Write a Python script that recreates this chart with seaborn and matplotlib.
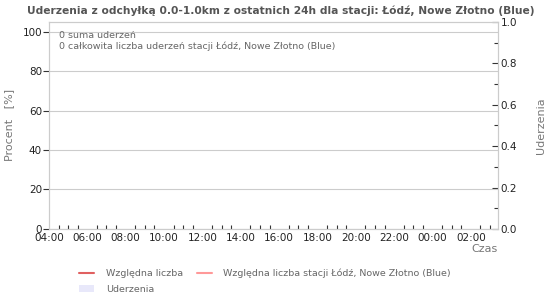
import matplotlib
matplotlib.use("Agg")
import matplotlib.pyplot as plt
import seaborn as sns
import pandas as pd
from matplotlib.lines import Line2D
from matplotlib.patches import Patch

# ---- data ----
tick_hours = [0, 2, 4, 6, 8, 10, 12, 14, 16, 18, 20, 22]
tick_labels = ["04:00", "06:00", "08:00", "10:00", "12:00", "14:00",
               "16:00", "18:00", "20:00", "22:00", "00:00", "02:00"]
slot_hours = [0, 2, 4, 6, 8, 10, 12, 14, 16, 18, 20, 22]
strikes = [0, 0, 0, 0, 0, 0, 0, 0, 0, 0, 0, 0]
total_strikes = 0
station_strikes = 0
station = "Łódź, Nowe Złotno (Blue)"

sns.set_theme(style="white")
plt.rcParams['font.family'] = ['DejaVu Sans']

fig = plt.figure(figsize=(5.5, 3.0), dpi=100)
ax = fig.add_axes([0.089, 0.237, 0.816, 0.690])
ax2 = ax.twinx()

df = pd.DataFrame({"h": slot_hours, "n": strikes})
sns.barplot(data=df, x="h", y="n", ax=ax2, native_scale=True,
            color="#e8e8fa", width=0.5)

gray = "#cccccc"
for a in (ax, ax2):
    for s in a.spines.values():
        s.set_color(gray)
        s.set_linewidth(0.8)

ax.set_xlim(0, 23.4)
ax.set_ylim(0, 105)
ax2.set_ylim(0, 1.0)
ax2.set_xlim(0, 23.4)
ax.set_yticks([0, 20, 40, 60, 80, 100])
ax.yaxis.grid(True, color=gray, linewidth=0.8)
ax.set_xticks(tick_hours)
ax.set_xticklabels(tick_labels)
ax.set_xticks([h * 0.5 for h in range(47) if h % 4 != 0], minor=True)
ax.tick_params(axis="x", which="major", direction="in", length=5, width=0.8,
               color="#333333", labelsize=7.5, pad=3, labelcolor="#222222")
ax.tick_params(axis="x", which="minor", direction="in", length=3, width=0.8,
               color="#333333", bottom=True)
ax.tick_params(axis="y", direction="out", length=4, width=0.8, color="#333333",
               labelsize=7.5, pad=1, labelcolor="#222222", left=True)
ax2.set_yticks([0, 0.2, 0.4, 0.6, 0.8, 1.0])
ax2.set_yticklabels(["0.0", "0.2", "0.4", "0.6", "0.8", "1.0"])
ax2.set_yticks([0.1, 0.3, 0.5, 0.7, 0.9], minor=True)
ax2.tick_params(axis="y", which="major", direction="in", length=4, width=0.8,
                color="#333333", labelsize=7.5, pad=2, labelcolor="#222222", right=True)
ax2.tick_params(axis="y", which="minor", direction="in", length=3, width=0.8,
                color="#333333", right=True)
ax2.set_xlabel("")
ax2.set_ylabel("Uderzenia", fontsize=8, color="#777777", labelpad=14)
ax.set_ylabel("Procent   [%]", fontsize=8, color="#777777", labelpad=6)
ax.set_xlabel("")
ax.set_zorder(ax2.get_zorder() + 1)
ax.patch.set_visible(False)

fig.text(0.905, 0.17, "Czas", ha="right", va="center", fontsize=8, color="#777777")
fig.text(0.51, 0.965, f"Uderzenia z odchyłką 0.0-1.0km z ostatnich 24h dla stacji: {station}",
         ha="center", va="center", fontsize=7.7, fontweight="bold", color="#555555")
ax.text(0.022, 0.955, f"{total_strikes} suma uderzeń\n{station_strikes} całkowita liczba uderzeń stacji {station}",
        transform=ax.transAxes, ha="left", va="top", fontsize=6.8, color="#666666",
        linespacing=1.15)

handles = [Line2D([], [], color="#e06060", lw=1.5),
           Patch(facecolor="#e8e8fa", edgecolor="none"),
           Line2D([], [], color="#ff9999", lw=1.5)]
labels = ["Względna liczba", "Uderzenia", f"Względna liczba stacji {station}"]
fig.legend(handles, labels, ncol=2, loc="center", bbox_to_anchor=(0.482, 0.063),
           frameon=False, fontsize=6.8, labelcolor="#666666", handlelength=1.6,
           handletextpad=1.2, columnspacing=1.5, labelspacing=0.7)

fig.savefig("out.png", dpi=100)
